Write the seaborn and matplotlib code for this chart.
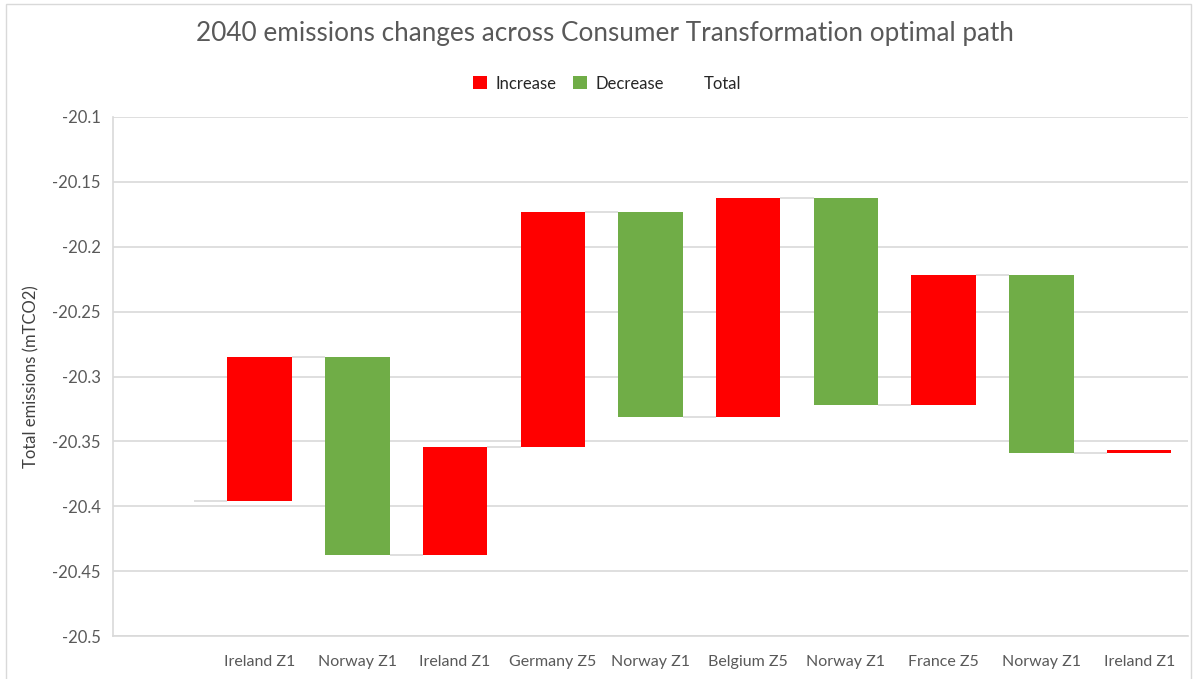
import numpy as np
import pandas as pd
import matplotlib
matplotlib.use("Agg")
import matplotlib.pyplot as plt
import matplotlib.patches as mpatches
import seaborn as sns

# Values (running level after each step, mTCO2)
steps = ["", "Ireland Z1", "Norway Z1", "Ireland Z1", "Germany Z5", "Norway Z1",
         "Belgium Z5", "Norway Z1", "France Z5", "Norway Z1", "Ireland Z1"]
kinds = ["Total", "Increase", "Decrease", "Increase", "Increase", "Decrease",
         "Increase", "Decrease", "Increase", "Decrease", "Increase"]
levels = [-20.3956, -20.2846, -20.4372, -20.3540, -20.1735, -20.3315,
          -20.1625, -20.3220, -20.2220, -20.3590, -20.3565]
y_ticks = [-20.5, -20.45, -20.4, -20.35, -20.3, -20.25, -20.2, -20.15, -20.1]

colors = {"Increase": "#FF0000", "Decrease": "#70AD47", "Total": "white"}
ymin, ymax = -20.5, -20.1

# Build the floating bars
prev = [ymin] + levels[:-1]
bottoms = []
heights = []
for i, k in enumerate(kinds):
    if k == "Total":
        bottoms.append(ymin)
        heights.append(levels[i] - ymin)
    else:
        lo = min(prev[i], levels[i])
        bottoms.append(lo)
        heights.append(abs(levels[i] - prev[i]))

ids = [str(i) for i in range(len(steps))]
df = pd.DataFrame({"step": ids, "height": heights, "kind": kinds})

sns.set_style("white")
plt.rcParams["font.family"] = ["Lato", "DejaVu Sans"]

fig = plt.figure(figsize=(11.97, 6.79), dpi=100)
ax = fig.add_axes([0.0944, 0.0633, 0.8981, 0.7644])

width = 0.66
sns.barplot(data=df, x="step", y="height", order=ids, bottom=bottoms,
            errorbar=None, width=width, saturation=1, color="red",
            linewidth=0, ax=ax, zorder=3)
for patch, k in zip(ax.patches, kinds):
    patch.set_facecolor(colors[k])
    if k == "Total":
        patch.set_alpha(0)

# connector lines between consecutive bars
for i in range(len(levels) - 1):
    ax.hlines(levels[i], i + width / 2, i + 1 - width / 2,
              color="#D9D9D9", linewidth=1.2, zorder=2)

ax.set_ylim(ymin, ymax)
ax.set_xlim(-0.5, len(steps) - 0.5)
ax.set_yticks(y_ticks)
ax.set_yticklabels([f"{v:g}" for v in y_ticks])
ax.set_xticks(range(len(steps)))
ax.set_xticklabels(steps)
ax.yaxis.grid(True, color="#D9D9D9", linewidth=1.2, zorder=0)
ax.set_axisbelow(True)
ax.tick_params(axis="both", length=0, colors="#595959")
ax.tick_params(axis="y", pad=9, labelsize=12)
ax.tick_params(axis="x", pad=14, labelsize=11.5)
ax.set_xlabel("")
ax.set_ylabel("Total emissions (mTCO2)", fontsize=12, color="#404040", labelpad=9)
for s in ["top", "right"]:
    ax.spines[s].set_visible(False)
for s in ["left", "bottom"]:
    ax.spines[s].set_color("#D9D9D9")
    ax.spines[s].set_linewidth(1.2)

fig.suptitle("2040 emissions changes across Consumer Transformation optimal path",
             x=0.505, y=0.951, va="center", fontsize=18.8, color="#595959")

handles = [mpatches.Patch(facecolor=colors[k], edgecolor="none", label=k)
           for k in ["Increase", "Decrease", "Total"]]
fig.legend(handles=handles, loc="center", bbox_to_anchor=(0.507, 0.877), ncol=3,
           frameon=False, fontsize=12, handlelength=0.84, handleheight=0.84,
           handletextpad=0.54, columnspacing=0.96)

fig.add_artist(mpatches.Rectangle((0.005, -0.01), 0.99, 1.004, transform=fig.transFigure,
                                  fill=False, edgecolor="#D9D9D9", linewidth=1))

fig.savefig("out.png", dpi=100)
